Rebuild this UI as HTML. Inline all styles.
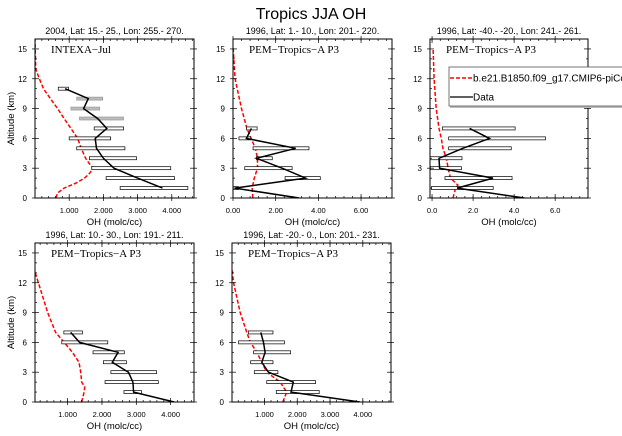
<!DOCTYPE html>
<html><head><meta charset="utf-8"><style>
body{margin:0;background:#fff}
svg{display:block;font-family:"Liberation Sans",sans-serif}
</style></head><body>
<svg id="c" width="622" height="436" viewBox="0 0 622 436">
<text x="311" y="19" font-size="16" text-anchor="middle">Tropics JJA OH</text>
</svg>
<script>
const altLevels = [1,2,3,4,5,6,7,8,9,10,11];
// Panel 1 INTEXA
const p1Obs = [3.73,3.0,2.31,2.0,1.8,1.76,2.1,1.83,1.42,1.56,0.88];
const p1Lo  = [2.49,2.08,1.66,1.59,1.22,1.0,1.73,1.3,1.05,1.22,0.68];
const p1Hi  = [4.47,4.08,3.97,2.97,2.63,2.21,2.59,2.59,1.89,1.98,0.98];
const p1Gray= [0,0,0,0,0,0,0,1,1,1,0];
const p1ModAlt = [0,0.5,1,1.5,2,2.5,3,3.5,4,5,6,7,8,9,10,11,12,13,16];
const p1ModVal = [0.61,0.66,0.85,1.2,1.45,1.6,1.7,1.58,1.48,1.35,1.25,1.05,0.85,0.66,0.45,0.25,0.13,0.02,0];
// Panel 2
const p2Alt = [0,1,2,3,4,5,6,7];
const p2Obs = [3.1,0.08,3.4,2.3,1.1,2.94,0.63,0.86];
const p2Lo  = [null,-0.05,2.44,0.55,1.1,0.94,0.28,0.63];
const p2Hi  = [null,0.25,4.09,2.77,1.84,3.56,0.83,1.13];
const p2ModAlt = [0,1,2,3,4,5,6,7,9,12,15.3];
const p2ModVal = [0.93,0.9,1.0,1.15,1.15,1.05,0.85,0.65,0.4,0.1,0.0];
// Panel 3
const p3Alt = [0,1,2,3,4,5,6,7];
const p3Obs = [4.5,1.22,2.97,0.37,0.34,1.5,2.8,1.83];
const p3Lo  = [null,-0.03,0.63,-0.08,-0.15,0.81,0.81,0.5];
const p3Hi  = [null,2.98,3.9,1.43,1.46,3.86,5.53,4.05];
const p3ModAlt = [0,1,1.3,2,3,4,5,6,7,9,12,15];
const p3ModVal = [1.02,1.15,1.26,0.9,0.78,0.7,0.53,0.45,0.34,0.2,0.1,0.05];
// Panel 4
const p4Alt = [0,1,2,3,4,5,6,7];
const p4Obs = [4.1,2.92,2.9,2.77,2.3,2.47,1.35,1.09];
const p4Lo  = [null,2.64,2.09,2.26,2.04,1.74,0.83,0.89];
const p4Hi  = [null,3.15,3.64,3.59,2.71,2.65,2.17,1.43];
const p4ModAlt = [0,1,1.5,2,3,4,5,6,7,9,12,13,14,16];
const p4ModVal = [1.41,1.48,1.5,1.41,1.38,1.33,1.14,0.9,0.65,0.42,0.15,0.06,0.01,0];
// Panel 5
const p5Alt = [0,1,2,3,4,5,6,7];
const p5Obs = [3.91,1.81,1.88,1.12,0.92,1.02,0.97,0.89];
const p5Lo  = [null,1.36,1.07,0.69,0.58,0.67,0.21,0.51];
const p5Hi  = [null,2.67,2.56,1.41,1.26,1.8,1.61,1.26];
const p5ModAlt = [0,1,2,3,4,5,6,7,9,12,13.5,16];
const p5ModVal = [1.56,1.68,1.48,1.07,0.92,0.77,0.57,0.46,0.26,0.06,0,0];
// Tick labels
const yTicks = [0,3,6,9,12,15];
const xTicksA = [1,2,3,4];
const xLabA = ["1.000","2.000","3.000","4.000"];
const xTicksB = [0,2,4,6];
const xLabB = ["0.00","2.00","4.00","6.00"];
const xLabC = ["0.0","2.0","4.0","6.0"];

const NS="http://www.w3.org/2000/svg";
const svg=document.getElementById('c');
function mk(tag,attrs,parent){const e=document.createElementNS(NS,tag);for(const k in attrs)e.setAttribute(k,attrs[k]);(parent||svg).appendChild(e);return e;}

const panels=[
 {id:'p1',L:35,R:194,T:39,B:198,xmin:0,xmax:4.65,xt:xTicksA,xl:xLabA,minor:0.2,title:"2004, Lat: 15.- 25., Lon: 255.- 270.",lab:"INTEXA\u2212Jul",
  alt:altLevels,obs:p1Obs,lo:p1Lo,hi:p1Hi,gray:p1Gray,ma:p1ModAlt,mv:p1ModVal,ylab:true},
 {id:'p2',L:233,R:392,T:39,B:198,xmin:0,xmax:7.45,xt:xTicksB,xl:xLabB,minor:0.4,title:"1996, Lat: 1.- 10., Lon: 201.- 220.",lab:"PEM\u2212Tropics\u2212A P3",
  alt:p2Alt,obs:p2Obs,lo:p2Lo,hi:p2Hi,gray:null,ma:p2ModAlt,mv:p2ModVal},
 {id:'p3',L:430,R:588,T:39,B:198,xmin:-0.1,xmax:7.6,xt:xTicksB,xl:xLabC,minor:0.4,title:"1996, Lat: -40.- -20., Lon: 241.- 261.",lab:"PEM\u2212Tropics\u2212A P3",
  alt:p3Alt,obs:p3Obs,lo:p3Lo,hi:p3Hi,gray:null,ma:p3ModAlt,mv:p3ModVal},
 {id:'p4',L:35,R:194,T:243,B:402,xmin:0.05,xmax:4.68,xt:xTicksA,xl:xLabA,minor:0.2,title:"1996, Lat: 10.- 30., Lon: 191.- 211.",lab:"PEM\u2212Tropics\u2212A P3",
  alt:p4Alt,obs:p4Obs,lo:p4Lo,hi:p4Hi,gray:null,ma:p4ModAlt,mv:p4ModVal,ylab:true},
 {id:'p5',L:232,R:391,T:243,B:402,xmin:0.01,xmax:4.86,xt:xTicksA,xl:xLabA,minor:0.2,title:"1996, Lat: -20.- 0., Lon: 201.- 231.",lab:"PEM\u2212Tropics\u2212A P3",
  alt:p5Alt,obs:p5Obs,lo:p5Lo,hi:p5Hi,gray:null,ma:p5ModAlt,mv:p5ModVal}
];

panels.forEach(p=>{
 const g=mk('g',{});
 
 
 const X=v=>p.L+(v-p.xmin)/(p.xmax-p.xmin)*(p.R-p.L);
 const Y=a=>p.B-a/16*(p.B-p.T);
 const cp='clip-'+p.id;
 const defs=mk('defs',{},g);const c=mk('clipPath',{id:cp},defs);mk('rect',{x:p.L,y:p.T,width:p.R-p.L,height:p.B-p.T},c);
 const plot=mk('g',{'clip-path':'url(#'+cp+')'},g);
 const mpts=p.ma.map((a,i)=>X(p.mv[i]).toFixed(1)+','+Y(a).toFixed(1)).join(' ');
 const ml=mk('polyline',{points:mpts,fill:'none',stroke:'#f00','stroke-width':1.5,'stroke-dasharray':'4,2'},plot);
 
 
 p.alt.forEach((a,i)=>{
  if(p.lo[i]==null)return;
  const r=mk('rect',{x:X(p.lo[i]),y:Y(a)-1.5,width:X(p.hi[i])-X(p.lo[i]),height:3,fill:(p.gray&&p.gray[i])?'#bbb':'#fff',stroke:(p.gray&&p.gray[i])?'#999':'#000','stroke-width':0.7},plot);
  
  
 });
 const opts=p.alt.map((a,i)=>X(p.obs[i]).toFixed(1)+','+Y(a).toFixed(1)).join(' ');
 const ol=mk('polyline',{points:opts,fill:'none',stroke:'#000','stroke-width':1.5},plot);
 
 
 const fr=mk('rect',{x:p.L,y:p.T,width:p.R-p.L,height:p.B-p.T,fill:'none',stroke:'#000','stroke-width':1},g);
 
 
 for(let a=0;a<=16;a++){
  const maj=a%3===0;const len=maj?4:2;
  mk('line',{x1:p.L-(maj?3:0),x2:p.L+len,y1:Y(a),y2:Y(a),stroke:'#000','stroke-width':0.7},g);
  mk('line',{x1:p.R-len,x2:p.R+(maj?3:0),y1:Y(a),y2:Y(a),stroke:'#000','stroke-width':0.7},g);
 }
 yTicks.forEach(a=>{
  const t=mk('text',{x:p.L-8,y:Y(a)+3,'font-size':8,'text-anchor':'end'},g);t.textContent=a;
  
  
 });
 for(let v=Math.ceil(p.xmin/p.minor)*p.minor;v<=p.xmax+1e-9;v+=p.minor){
  mk('line',{x1:X(v),x2:X(v),y1:p.B,y2:p.B-2,stroke:'#000','stroke-width':0.7},g);
  mk('line',{x1:X(v),x2:X(v),y1:p.T,y2:p.T+2,stroke:'#000','stroke-width':0.7},g);
 }
 p.xt.forEach((v,i)=>{
  mk('line',{x1:X(v),x2:X(v),y1:p.B+3,y2:p.B-4,stroke:'#000','stroke-width':0.7},g);
  mk('line',{x1:X(v),x2:X(v),y1:p.T-3,y2:p.T+4,stroke:'#000','stroke-width':0.7},g);
  const t=mk('text',{x:X(v),y:p.B+15,'font-size':7.5,'text-anchor':'middle'},g);t.textContent=p.xl[i];
  
  
 });
 const xt=mk('text',{x:(p.L+p.R)/2,y:p.B+27,'font-size':9.5,'text-anchor':'middle'},g);xt.textContent='OH (molc/cc)';
 
 
 const tt=mk('text',{x:(p.L+p.R)/2,y:p.T-5,'font-size':9,'text-anchor':'middle'},g);tt.textContent=p.title;
 
 
 const lb=mk('text',{x:p.L+16,y:p.T+14,'font-size':11,'font-family':'Liberation Serif, serif'},g);lb.textContent=p.lab;
 
 
 if(p.ylab){
  const yl=mk('text',{x:0,y:0,'font-size':9.5,'text-anchor':'middle',transform:'translate(14,'+((p.T+p.B)/2)+') rotate(-90)'},g);yl.textContent='Altitude (km)';
  
  
 }
});
const lg=mk('g',{});


mk('rect',{x:450,y:69,width:180,height:39,fill:'#bbb'},lg);
mk('rect',{x:449,y:67,width:180,height:39,fill:'#fff',stroke:'#555','stroke-width':0.8},lg);
mk('line',{x1:450,x2:473,y1:78,y2:78,stroke:'#f00','stroke-width':1.5,'stroke-dasharray':'4,2'},lg);
const l1=mk('text',{x:473,y:81.5,'font-size':10},lg);l1.textContent='b.e21.B1850.f09_g17.CMIP6-piControl';


mk('line',{x1:450,x2:473,y1:97,y2:97,stroke:'#000','stroke-width':1.2},lg);
const l2=mk('text',{x:473,y:100.5,'font-size':10},lg);l2.textContent='Data';


</script>
</body></html>
